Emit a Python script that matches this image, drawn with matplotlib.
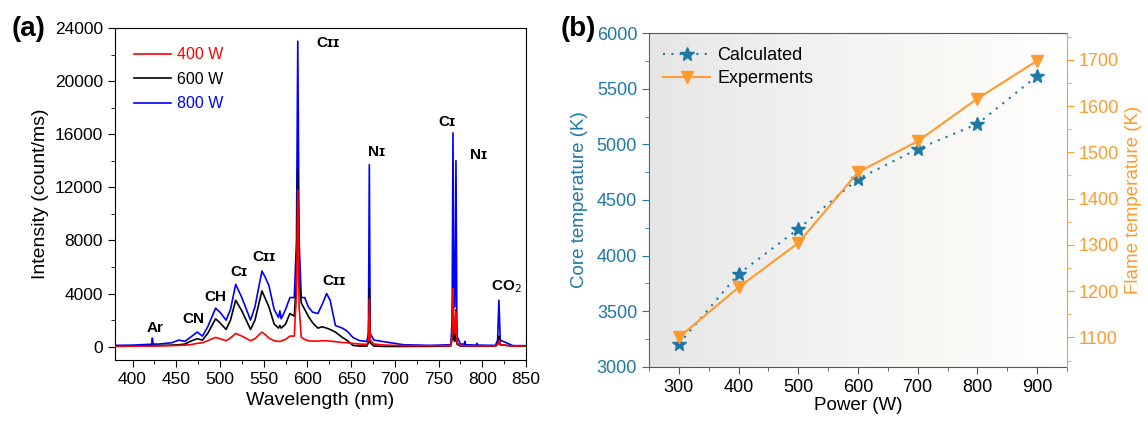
import numpy as np
import matplotlib
matplotlib.use("Agg")
import matplotlib.pyplot as plt
from matplotlib.ticker import MultipleLocator
from matplotlib.colors import LinearSegmentedColormap

plt.rcParams['font.family'] = ['Liberation Sans', 'DejaVu Sans']

# ---------------- data: panel (a) ----------------
wavelength = [380, 400, 420, 422, 422.7, 423.5, 430, 445, 453, 460, 466, 474, 480, 486, 495, 500,
              507, 512, 518, 525, 535, 540, 548, 552, 556, 562, 567, 568.5, 570, 575, 580, 585,
              587.5, 589, 590.5, 593, 597, 601, 606, 612, 617, 622, 626, 632, 640, 645, 652, 660,
              668, 669.8, 670.8, 671.8, 676, 690, 710, 740, 764, 765.5, 766.5, 767.5, 768.7, 769.9,
              771, 775, 779.5, 780, 781, 793, 794, 795, 815, 817.5, 819, 820.5, 835, 850]
int_800 = [100, 120, 180, 200, 650, 200, 200, 300, 500, 400, 700, 1100, 800, 1500, 2900, 2600,
           2000, 2800, 4700, 3700, 2000, 3000, 5700, 5200, 4600, 2800, 2200, 2700, 2100, 2800, 3700, 3700,
           8000, 23000, 8000, 3700, 3700, 3000, 2600, 2500, 3200, 4000, 3500, 1600, 1400, 1200, 700, 450,
           400, 1000, 13700, 1000, 500, 350, 150, 100, 150, 2000, 16100, 3000, 3000, 14000,
           800, 200, 200, 400, 150, 120, 250, 120, 100, 500, 3500, 500, 80, 80]
int_600 = [50, 60, 80, 80, 120, 80, 90, 120, 150, 200, 400, 600, 500, 1000, 2100, 1800,
           1300, 2000, 3500, 2700, 1300, 2000, 4200, 3600, 3000, 1700, 1400, 1600, 1400, 1700, 2500, 2300,
           5000, 13400, 5000, 3300, 2800, 2300, 1800, 1400, 1500, 1400, 1300, 1100, 700, 500, 100, 50,
           50, 300, 4400, 300, 50, 20, 20, 30, 60, 600, 4400, 500, 400, 2800,
           200, 50, 50, 60, 50, 50, 60, 50, 50, 150, 800, 150, 40, 40]
int_400 = [30, 40, 50, 50, 60, 50, 60, 80, 100, 120, 150, 250, 300, 450, 700, 600,
           450, 650, 1000, 800, 450, 600, 1100, 900, 650, 450, 400, 400, 420, 550, 800, 800,
           4000, 11800, 3000, 700, 550, 450, 420, 420, 450, 450, 420, 380, 320, 300, 250, 200,
           180, 500, 3600, 500, 200, 120, 80, 70, 80, 800, 4400, 1400, 1000, 2700,
           300, 80, 70, 70, 70, 60, 60, 60, 60, 150, 500, 150, 50, 50]
series_labels = ['400 W', '600 W', '800 W']
series_colors = ['#ff0000', '#000000', '#0000ff']

peak_labels = ['Ar', 'CN', 'CH', 'Cɪ', 'Cɪɪ', 'Cɪɪ', 'Cɪɪ', 'Nɪ', 'Cɪ', 'Nɪ', 'CO$_2$']
peak_x = [426, 470, 494.6, 522, 550, 630, 624, 678.6, 759, 795.5, 827.6]
peak_y = [1400, 2090, 3740, 5620, 6750, 4950, 22870, 14660, 16940, 14440, 4520]

# ---------------- data: panel (b) ----------------
power = [300, 400, 500, 600, 700, 800, 900]
core_temp = [3207, 3835, 4240, 4689, 4958, 5183, 5614]
flame_temp = [1100, 1208, 1304, 1457, 1524, 1616, 1698]

blue_c = '#1f78a4'
orange_c = '#ff9a2e'

fig = plt.figure(figsize=(11.48, 4.21), dpi=100)

# ---------------- panel (a) ----------------
ax = fig.add_axes([0.1002, 0.1449, 0.358, 0.7886])
ys = [int_400, int_600, int_800]
lines = {}
for i in [2, 1, 0]:
    lines[i], = ax.plot(wavelength, ys[i], color=series_colors[i], lw=1.2,
                        label=series_labels[i], zorder=3 - i)
ax.set_xlim(380, 850)
ax.set_ylim(-1000, 24000)
ax.xaxis.set_major_locator(MultipleLocator(50))
ax.xaxis.set_minor_locator(MultipleLocator(25))
ax.yaxis.set_major_locator(MultipleLocator(4000))
ax.yaxis.set_minor_locator(MultipleLocator(2000))
ax.tick_params(which='both', direction='out', top=False, right=False, labelsize=12.5)
ax.tick_params(which='major', length=5)
ax.tick_params(which='minor', length=3)
ax.set_xlabel('Wavelength (nm)', fontsize=14, labelpad=4)
ax.set_ylabel('Intensity (count/ms)', fontsize=14, labelpad=4)
leg = ax.legend([lines[0], lines[1], lines[2]], series_labels, loc='upper left',
                frameon=False, fontsize=11.5, handlelength=2.3, handletextpad=0.4,
                labelspacing=0.6, borderaxespad=0.8)
for t, c in zip(leg.get_texts(), series_colors):
    t.set_color(c)
for lab, px, py in zip(peak_labels, peak_x, peak_y):
    ax.text(px, py, lab, ha='center', va='center', fontsize=11, fontweight='bold')
fig.text(0.010, 0.93, '(a)', fontsize=20, fontweight='bold', ha='left', va='center')

# ---------------- panel (b) ----------------
bx = fig.add_axes([0.5653, 0.1283, 0.3641, 0.7933])
grad = np.linspace(0, 1, 256)[None, :]
cm = LinearSegmentedColormap.from_list('bg', ['#e6e6e6', '#f0f0f0', '#f8f7f3', '#ffffff'])
bx.imshow(grad, extent=[250, 950, 3000, 6000], aspect='auto', cmap=cm, zorder=0)
l1, = bx.plot(power, core_temp, linestyle=(0, (1, 3)), color=blue_c, lw=1.5, marker='*',
              markersize=10, markeredgecolor=blue_c, markerfacecolor=blue_c, label='Calculated', zorder=3)
bx.set_xlim(250, 950)
bx.set_ylim(3000, 6000)
bx2 = bx.twinx()
l2, = bx2.plot(power, flame_temp, linestyle='-', color=orange_c, lw=1.5, marker='v',
               markersize=8, label='Experments', zorder=3)
bx2.set_ylim(1036, 1758)
bx.xaxis.set_major_locator(MultipleLocator(100))
bx.xaxis.set_minor_locator(MultipleLocator(50))
bx.yaxis.set_major_locator(MultipleLocator(500))
bx.yaxis.set_minor_locator(MultipleLocator(250))
bx2.yaxis.set_major_locator(MultipleLocator(100))
bx2.yaxis.set_minor_locator(MultipleLocator(50))
bx.tick_params(which='both', direction='out', top=False, labelsize=13)
bx.tick_params(axis='y', which='both', colors=blue_c)
bx.tick_params(axis='x', which='both', color='#555555', labelcolor='black')
bx2.tick_params(axis='y', which='both', colors=orange_c, labelsize=13, direction='out')
for a in (bx, bx2):
    a.tick_params(which='major', length=5)
    a.tick_params(which='minor', length=3)
bx.spines['left'].set_color(blue_c)
bx2.spines['left'].set_visible(False)
bx.spines['right'].set_visible(False)
bx2.spines['right'].set_color(orange_c)
for a in (bx, bx2):
    a.spines['top'].set_color('#555555')
    a.spines['bottom'].set_color('#555555')
bx2.spines['top'].set_visible(False)
bx2.spines['bottom'].set_visible(False)
bx.set_xlabel('Power (W)', fontsize=13.5, labelpad=1)
bx.set_ylabel('Core temperature (K)', fontsize=13.5, color=blue_c, labelpad=6)
bx2.set_ylabel('Flame temperature (K)', fontsize=13.5, color=orange_c, labelpad=4)
bx2.legend([l1, l2], ['Calculated', 'Experments'], loc='upper left', frameon=False, fontsize=13,
           handlelength=2.6, handletextpad=0.4, labelspacing=0.3, borderaxespad=0.4)
fig.text(0.488, 0.93, '(b)', fontsize=20, fontweight='bold', ha='left', va='center')

fig.savefig('out.png', dpi=100)
